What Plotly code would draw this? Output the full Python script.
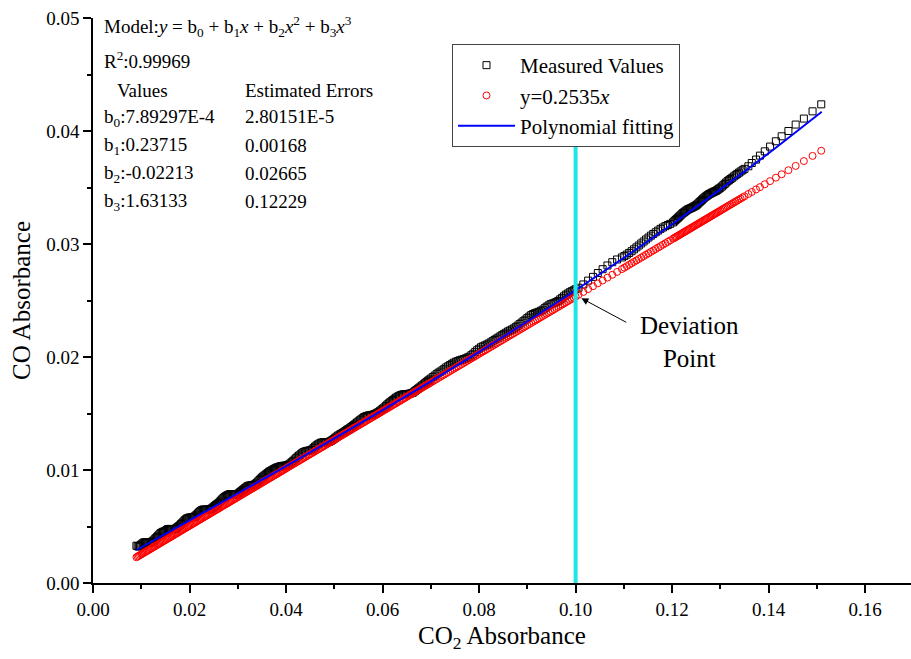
import plotly.graph_objects as go

# ---------------- data ----------------
CO2_ABS = [
    # 0.009 - 0.040
    0.00900, 0.00925, 0.00950, 0.00975, 0.01000, 0.01025, 0.01050, 0.01075, 0.01100, 0.01125,
    0.01150, 0.01175, 0.01200, 0.01225, 0.01250, 0.01275, 0.01300, 0.01325, 0.01350, 0.01375,
    0.01400, 0.01425, 0.01450, 0.01475, 0.01500, 0.01525, 0.01550, 0.01575, 0.01600, 0.01625,
    0.01650, 0.01675, 0.01700, 0.01725, 0.01750, 0.01775, 0.01800, 0.01825, 0.01850, 0.01875,
    0.01900, 0.01925, 0.01950, 0.01975, 0.02000, 0.02025, 0.02050, 0.02075, 0.02100, 0.02125,
    0.02150, 0.02175, 0.02200, 0.02225, 0.02250, 0.02275, 0.02300, 0.02325, 0.02350, 0.02375,
    0.02400, 0.02425, 0.02450, 0.02475, 0.02500, 0.02525, 0.02550, 0.02575, 0.02600, 0.02625,
    0.02650, 0.02675, 0.02700, 0.02725, 0.02750, 0.02775, 0.02800, 0.02825, 0.02850, 0.02875,
    0.02900, 0.02925, 0.02950, 0.02975, 0.03000, 0.03025, 0.03050, 0.03075, 0.03100, 0.03125,
    0.03150, 0.03175, 0.03200, 0.03225, 0.03250, 0.03275, 0.03300, 0.03325, 0.03350, 0.03375,
    0.03400, 0.03425, 0.03450, 0.03475, 0.03500, 0.03525, 0.03550, 0.03575, 0.03600, 0.03625,
    0.03650, 0.03675, 0.03700, 0.03725, 0.03750, 0.03775, 0.03800, 0.03825, 0.03850, 0.03875,
    0.03900, 0.03925, 0.03950, 0.03975, 0.04000,
    # 0.040 - 0.070
    0.0403, 0.0406, 0.0409, 0.0412, 0.0415, 0.0418, 0.0421, 0.0424, 0.0427, 0.0430,
    0.0433, 0.0436, 0.0439, 0.0442, 0.0445, 0.0448, 0.0451, 0.0454, 0.0457, 0.0460,
    0.0463, 0.0466, 0.0469, 0.0472, 0.0475, 0.0478, 0.0481, 0.0484, 0.0487, 0.0490,
    0.0493, 0.0496, 0.0499, 0.0502, 0.0505, 0.0508, 0.0511, 0.0514, 0.0517, 0.0520,
    0.0523, 0.0526, 0.0529, 0.0532, 0.0535, 0.0538, 0.0541, 0.0544, 0.0547, 0.0550,
    0.0553, 0.0556, 0.0559, 0.0562, 0.0565, 0.0568, 0.0571, 0.0574, 0.0577, 0.0580,
    0.0583, 0.0586, 0.0589, 0.0592, 0.0595, 0.0598, 0.0601, 0.0604, 0.0607, 0.0610,
    0.0613, 0.0616, 0.0619, 0.0622, 0.0625, 0.0628, 0.0631, 0.0634, 0.0637, 0.0640,
    0.0643, 0.0646, 0.0649, 0.0652, 0.0655, 0.0658, 0.0661, 0.0664, 0.0667, 0.0670,
    0.0673, 0.0676, 0.0679, 0.0682, 0.0685, 0.0688, 0.0691, 0.0694, 0.0697, 0.0700,
    # 0.070 - 0.100
    0.0704, 0.0708, 0.0712, 0.0716, 0.0720, 0.0724, 0.0728, 0.0732, 0.0736, 0.0740,
    0.0744, 0.0748, 0.0752, 0.0756, 0.0760, 0.0764, 0.0768, 0.0772, 0.0776, 0.0780,
    0.0784, 0.0788, 0.0792, 0.0796, 0.0800, 0.0804, 0.0808, 0.0812, 0.0816, 0.0820,
    0.0824, 0.0828, 0.0832, 0.0836, 0.0840, 0.0844, 0.0848, 0.0852, 0.0856, 0.0860,
    0.0864, 0.0868, 0.0872, 0.0876, 0.0880, 0.0884, 0.0888, 0.0892, 0.0896, 0.0900,
    0.0904, 0.0908, 0.0912, 0.0916, 0.0920, 0.0924, 0.0928, 0.0932, 0.0936, 0.0940,
    0.0944, 0.0948, 0.0952, 0.0956, 0.0960, 0.0964, 0.0968, 0.0972, 0.0976, 0.0980,
    0.0984, 0.0988, 0.0992, 0.0996, 0.1000,
    # 0.100 - 0.120
    0.1006, 0.1016, 0.1026, 0.1036, 0.1046, 0.1056, 0.1066, 0.1076, 0.1086, 0.1096,
    0.1101, 0.1106, 0.1111, 0.1116, 0.1121, 0.1126, 0.1131, 0.1136, 0.1141, 0.1146,
    0.1151, 0.1156, 0.1161, 0.1166, 0.1171, 0.1176, 0.1181, 0.1186, 0.1191, 0.1196,
    # 0.120 - 0.135 (dense cluster)
    0.12020, 0.12045, 0.12070, 0.12095, 0.12120, 0.12145, 0.12170, 0.12195, 0.12220, 0.12245,
    0.12270, 0.12295, 0.12320, 0.12345, 0.12370, 0.12395, 0.12420, 0.12445, 0.12470, 0.12495,
    0.12520, 0.12545, 0.12570, 0.12595, 0.12620, 0.12645, 0.12670, 0.12695, 0.12720, 0.12745,
    0.12770, 0.12795, 0.12820, 0.12845, 0.12870, 0.12895, 0.12920, 0.12945, 0.12970, 0.13000,
    0.13030, 0.13060, 0.13090, 0.13120, 0.13150, 0.13180, 0.13210, 0.13245, 0.13280, 0.13315,
    0.13350, 0.13385, 0.13420, 0.13460,
    # 0.135 - 0.151 (sparse tail)
    0.1350, 0.1358, 0.1365, 0.1374, 0.1382, 0.1392, 0.1403, 0.1415, 0.1427, 0.1441,
    0.1456, 0.1473, 0.1491, 0.1509,
]

CO_ABS = [
    0.00330, 0.00326, 0.00322, 0.00332, 0.00341, 0.00350, 0.00358, 0.00360, 0.00360, 0.00358,
    0.00357, 0.00357, 0.00358, 0.00366, 0.00375, 0.00386, 0.00397, 0.00408, 0.00419, 0.00430,
    0.00441, 0.00447, 0.00453, 0.00456, 0.00460, 0.00469, 0.00477, 0.00478, 0.00479, 0.00477,
    0.00476, 0.00476, 0.00477, 0.00485, 0.00494, 0.00502, 0.00511, 0.00522, 0.00533, 0.00544,
    0.00555, 0.00564, 0.00572, 0.00576, 0.00579, 0.00580, 0.00581, 0.00584, 0.00588, 0.00596,
    0.00605, 0.00616, 0.00627, 0.00636, 0.00644, 0.00648, 0.00651, 0.00649, 0.00648, 0.00649,
    0.00650, 0.00653, 0.00657, 0.00665, 0.00674, 0.00682, 0.00691, 0.00699, 0.00707, 0.00718,
    0.00729, 0.00740, 0.00751, 0.00760, 0.00768, 0.00774, 0.00780, 0.00784, 0.00787, 0.00786,
    0.00784, 0.00782, 0.00781, 0.00784, 0.00788, 0.00796, 0.00805, 0.00813, 0.00822, 0.00830,
    0.00839, 0.00847, 0.00856, 0.00860, 0.00863, 0.00864, 0.00865, 0.00868, 0.00872, 0.00880,
    0.00889, 0.00900, 0.00911, 0.00922, 0.00933, 0.00941, 0.00950, 0.00958, 0.00967, 0.00975,
    0.00984, 0.00990, 0.00996, 0.01002, 0.01008, 0.01014, 0.01020, 0.01023, 0.01027, 0.01031,
    0.01035, 0.01036, 0.01037, 0.01038, 0.01039,
    0.01044, 0.01049, 0.01059, 0.01069, 0.01081, 0.01093, 0.01105, 0.01118, 0.01128, 0.01138,
    0.01148, 0.01158, 0.01163, 0.01167, 0.01170, 0.01172, 0.01177, 0.01182, 0.01195, 0.01207,
    0.01217, 0.01226, 0.01234, 0.01241, 0.01244, 0.01246, 0.01246, 0.01246, 0.01248, 0.01250,
    0.01257, 0.01265, 0.01275, 0.01285, 0.01295, 0.01305, 0.01313, 0.01320, 0.01328, 0.01335,
    0.01345, 0.01355, 0.01362, 0.01370, 0.01380, 0.01390, 0.01400, 0.01410, 0.01420, 0.01430,
    0.01440, 0.01449, 0.01459, 0.01469, 0.01474, 0.01479, 0.01482, 0.01484, 0.01487, 0.01489,
    0.01494, 0.01499, 0.01507, 0.01514, 0.01524, 0.01534, 0.01544, 0.01554, 0.01567, 0.01580,
    0.01590, 0.01600, 0.01610, 0.01620, 0.01630, 0.01640, 0.01648, 0.01656, 0.01661, 0.01666,
    0.01669, 0.01671, 0.01672, 0.01672, 0.01675, 0.01677, 0.01682, 0.01687, 0.01698, 0.01708,
    0.01718, 0.01728, 0.01738, 0.01748, 0.01758, 0.01768, 0.01779, 0.01789, 0.01799, 0.01809,
    0.01822, 0.01835, 0.01848, 0.01861, 0.01871, 0.01882, 0.01895, 0.01908, 0.01918, 0.01929,
    0.01940, 0.01950, 0.01958, 0.01965, 0.01971, 0.01976, 0.01982, 0.01987, 0.01995, 0.02003,
    0.02016, 0.02029, 0.02045, 0.02060, 0.02073, 0.02086, 0.02094, 0.02102, 0.02110, 0.02119,
    0.02129, 0.02140, 0.02151, 0.02162, 0.02172, 0.02183, 0.02194, 0.02205, 0.02215, 0.02226,
    0.02234, 0.02243, 0.02253, 0.02264, 0.02277, 0.02291, 0.02304, 0.02317, 0.02330, 0.02344,
    0.02358, 0.02371, 0.02380, 0.02388, 0.02394, 0.02400, 0.02409, 0.02418, 0.02432, 0.02445,
    0.02456, 0.02467, 0.02473, 0.02479, 0.02487, 0.02496, 0.02510, 0.02523, 0.02537, 0.02551,
    0.02562, 0.02573, 0.02582, 0.02590, 0.02600,
    0.02613, 0.02642, 0.02676, 0.02709, 0.02743, 0.02777, 0.02810, 0.02839, 0.02863, 0.02881,
    0.02893, 0.02906, 0.02921, 0.02936, 0.02953, 0.02970, 0.02987, 0.03005, 0.03022, 0.03040,
    0.03057, 0.03074, 0.03089, 0.03104, 0.03119, 0.03134, 0.03146, 0.03158, 0.03168, 0.03178,
    0.03191, 0.03201, 0.03212, 0.03222, 0.03232, 0.03242, 0.03252, 0.03262, 0.03273, 0.03280,
    0.03288, 0.03296, 0.03304, 0.03309, 0.03314, 0.03319, 0.03324, 0.03330, 0.03335, 0.03342,
    0.03350, 0.03360, 0.03371, 0.03381, 0.03391, 0.03401, 0.03411, 0.03419, 0.03427, 0.03434,
    0.03442, 0.03447, 0.03453, 0.03458, 0.03463, 0.03468, 0.03473, 0.03481, 0.03489, 0.03498,
    0.03508, 0.03520, 0.03532, 0.03544, 0.03556, 0.03565, 0.03575, 0.03586, 0.03598, 0.03609,
    0.03620, 0.03631, 0.03642, 0.03653,
    0.03665, 0.03688, 0.03717, 0.03747, 0.03782, 0.03820, 0.03862, 0.03909, 0.03953, 0.04000,
    0.04057, 0.04110, 0.04174, 0.04236,
]

LINEAR_SLOPE = 0.2535  # "y=0.2535x" from the legend

FIT_X = [0.009, 0.020, 0.030, 0.040, 0.050, 0.060, 0.070, 0.080,
         0.090, 0.100, 0.110, 0.120, 0.130, 0.140, 0.150, 0.151]
FIT_Y = [0.00292, 0.00554, 0.00793, 0.01034, 0.01280, 0.01529, 0.01784, 0.02045,
         0.02314, 0.02591, 0.02878, 0.03175, 0.03483, 0.03803, 0.04137, 0.04171]

X_TICKS = [0.00, 0.02, 0.04, 0.06, 0.08, 0.10, 0.12, 0.14, 0.16]
Y_TICKS = [0.00, 0.01, 0.02, 0.03, 0.04, 0.05]
DEVIATION_X = 0.10
DEVIATION_LINE_TOP = 0.039

MODEL_LINES = [
    "Model:<i>y</i> = b<sub>0</sub> + b<sub>1</sub><i>x</i> + b<sub>2</sub><i>x</i><sup>2</sup> + b<sub>3</sub><i>x</i><sup>3</sup>",
    "R<sup>2</sup>:0.99969",
]
PARAM_HEAD = ["Values", "Estimated Errors"]
PARAM_VALUES = ["b<sub>0</sub>:7.89297E-4", "b<sub>1</sub>:0.23715",
                "b<sub>2</sub>:-0.02213", "b<sub>3</sub>:1.63133"]
PARAM_ERRORS = ["2.80151E-5", "0.00168", "0.02665", "0.12229"]

# ---------------- layout geometry ----------------
W, H = 911, 659
ML, MR, MT, MB = 93, 0, 18, 76
PW, PH = W - ML - MR, H - MT - MB
FONT = "Liberation Serif, Times New Roman, serif"


def px(xp):
    return (xp - ML) / PW


def py(yp):
    return (H - MB - yp) / PH


linear_y = [LINEAR_SLOPE * v for v in CO2_ABS]

fig = go.Figure()
fig.add_trace(go.Scatter(
    x=CO2_ABS, y=CO_ABS, mode="markers", name="Measured Values",
    marker=dict(symbol="square-open", size=7, color="black", line=dict(width=1, color="black")),
))
fig.add_trace(go.Scatter(
    x=CO2_ABS, y=linear_y, mode="markers", name="y=0.2535<i>x</i>",
    marker=dict(symbol="circle-open", size=7, color="red", line=dict(width=1, color="red")),
))
fig.add_trace(go.Scatter(
    x=FIT_X, y=FIT_Y, mode="lines", name="Polynomial fitting",
    line=dict(color="#0000ff", width=2, shape="spline"),
))

fig.add_shape(type="line", x0=DEVIATION_X, x1=DEVIATION_X, y0=0, y1=DEVIATION_LINE_TOP,
              xref="x", yref="y", line=dict(color="#1ee6e6", width=4), layer="above")

ann = []
ann.append(dict(x=0.1012, y=0.0252, ax=0.1108, ay=0.0230, xref="x", yref="y",
                axref="x", ayref="y", text="", showarrow=True, arrowhead=2,
                arrowsize=1.4, arrowwidth=1, arrowcolor="black"))
ann.append(dict(x=0.1236, y=0.0213, xref="x", yref="y", text="Deviation<br>Point",
                showarrow=False, font=dict(family=FONT, size=25, color="black"),
                xanchor="center", yanchor="middle", align="center"))

tf = dict(family=FONT, size=19, color="black")
col1, col2 = 102, 243
ann.append(dict(x=px(col1), y=py(26), xref="paper", yref="paper", text=MODEL_LINES[0],
                showarrow=False, xanchor="left", yanchor="middle", font=tf))
ann.append(dict(x=px(col1), y=py(60), xref="paper", yref="paper", text=MODEL_LINES[1],
                showarrow=False, xanchor="left", yanchor="middle", font=tf))
ann.append(dict(x=px(115), y=py(91), xref="paper", yref="paper", text=PARAM_HEAD[0],
                showarrow=False, xanchor="left", yanchor="middle", font=tf))
ann.append(dict(x=px(col2), y=py(91), xref="paper", yref="paper", text=PARAM_HEAD[1],
                showarrow=False, xanchor="left", yanchor="middle", font=tf))
rows_y = [118, 146, 174, 202]
for i in range(4):
    ann.append(dict(x=px(col1), y=py(rows_y[i]), xref="paper", yref="paper", text=PARAM_VALUES[i],
                    showarrow=False, xanchor="left", yanchor="middle", font=tf))
    ann.append(dict(x=px(col2), y=py(rows_y[i] - 1), xref="paper", yref="paper", text=PARAM_ERRORS[i],
                    showarrow=False, xanchor="left", yanchor="middle", font=tf))

axis_common = dict(
    showline=True, linecolor="black", linewidth=1.5, mirror=False,
    ticks="outside", ticklen=8, tickwidth=1.5, tickcolor="black",
    showgrid=False, zeroline=False,
    tickfont=dict(family=FONT, size=19, color="black"),
)

fig.update_layout(
    width=W, height=H,
    margin=dict(l=ML, r=MR, t=MT, b=MB, pad=0),
    paper_bgcolor="white", plot_bgcolor="white",
    font=dict(family=FONT, color="black"),
    showlegend=True,
    legend=dict(x=px(452), y=py(44), xanchor="left", yanchor="top",
                bgcolor="white", bordercolor="#444", borderwidth=1,
                font=dict(family=FONT, size=21, color="black"),
                itemwidth=57, tracegroupgap=0),
    xaxis=dict(range=[0, 0.1695], tickvals=X_TICKS, ticktext=[f"{v:.2f}" for v in X_TICKS],
               minor=dict(dtick=0.01, tick0=0, ticks="outside", ticklen=4, tickwidth=1.5, tickcolor="black"),
               title=dict(text="CO<sub>2</sub> Absorbance", font=dict(family=FONT, size=25, color="black"),
                          standoff=8),
               **axis_common),
    yaxis=dict(range=[0, 0.05], tickvals=Y_TICKS, ticktext=[f"{v:.2f}" for v in Y_TICKS],
               minor=dict(dtick=0.005, tick0=0, ticks="outside", ticklen=4, tickwidth=1.5, tickcolor="black"),
               title=dict(text="CO Absorbance", font=dict(family=FONT, size=25, color="black"),
                          standoff=8),
               **axis_common),
    annotations=ann,
)

fig.write_html("out.html")
